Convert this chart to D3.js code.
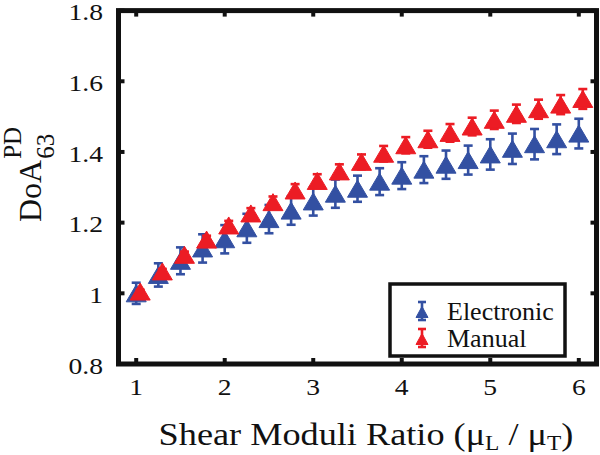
<!DOCTYPE html>
<html>
<head>
<meta charset="utf-8">
<script src="https://cdn.jsdelivr.net/npm/d3@7"></script>
<style>
  html, body { margin: 0; padding: 0; background: #fff; }
  svg { display: block; }
  text { font-family: "Liberation Serif", "Times New Roman", Times, serif; fill: #111; }
</style>
</head>
<body>
<svg id="chart" width="600" height="455"></svg>
<script>
// ---- data ----
const ratios = [1, 1.25, 1.5, 1.75, 2, 2.25, 2.5, 2.75, 3, 3.25, 3.5, 3.75, 4, 4.25, 4.5, 4.75, 5, 5.25, 5.5, 5.75, 6];
const electronic = [1.000, 1.052, 1.092, 1.127, 1.153, 1.184, 1.210, 1.234, 1.260, 1.282, 1.296, 1.316, 1.333, 1.350, 1.364, 1.377, 1.393, 1.409, 1.422, 1.436, 1.452];
const electronicErr = [0.030, 0.033, 0.038, 0.040, 0.040, 0.041, 0.040, 0.040, 0.040, 0.040, 0.037, 0.038, 0.038, 0.038, 0.040, 0.041, 0.043, 0.043, 0.043, 0.042, 0.042];
const manual = [1.005, 1.062, 1.109, 1.152, 1.192, 1.226, 1.258, 1.291, 1.318, 1.345, 1.372, 1.395, 1.419, 1.436, 1.454, 1.472, 1.491, 1.508, 1.521, 1.534, 1.550];
const manualErr = [0.005, 0.007, 0.009, 0.011, 0.013, 0.015, 0.016, 0.018, 0.019, 0.020, 0.021, 0.022, 0.023, 0.024, 0.025, 0.025, 0.026, 0.026, 0.027, 0.027, 0.028];
const seriesNames = ["Electronic", "Manual"];
const xTicks = [1, 2, 3, 4, 5, 6];
const yTicks = [0.8, 1, 1.2, 1.4, 1.6, 1.8];
const yTickLabels = ["0.8", "1", "1.2", "1.4", "1.6", "1.8"];

// ---- layout / style ----
const BLUE = "#3350a2", RED = "#ec1c24";
const svg = d3.select("#chart");
const x = d3.scaleLinear().domain([0.8, 6.2]).range([118.5, 596.5]);
const y = d3.scaleLinear().domain([0.8, 1.8]).range([364, 10.6]);
const SX = 1.15; // horizontal text stretch seen in the reference

const series = [
  { name: seriesNames[0], vals: electronic, errs: electronicErr, color: BLUE, dx: 0 },
  { name: seriesNames[1], vals: manual, errs: manualErr, color: RED, dx: 4 }
];

function triPath(w, h) {
  return `M0,${-h / 2}L${w / 2},${h / 2}L${-w / 2},${h / 2}Z`;
}

const plot = svg.append("g");
series.forEach(s => {
  const g = plot.append("g");
  const pts = ratios.map((r, i) => ({ r, v: s.vals[i], e: s.errs[i] }));
  const eb = g.selectAll("g.eb").data(pts).enter().append("g")
    .attr("transform", d => `translate(${x(d.r) + s.dx},0)`)
    .attr("stroke", s.color).attr("stroke-width", 2.6).attr("fill", "none");
  eb.append("line").attr("x1", 0).attr("x2", 0).attr("y1", d => y(d.v + d.e)).attr("y2", d => y(d.v - d.e));
  eb.append("line").attr("x1", -4.5).attr("x2", 4.5).attr("y1", d => y(d.v + d.e)).attr("y2", d => y(d.v + d.e));
  eb.append("line").attr("x1", -4.5).attr("x2", 4.5).attr("y1", d => y(d.v - d.e)).attr("y2", d => y(d.v - d.e));
  g.selectAll("path.m").data(pts).enter().append("path")
    .attr("d", triPath(20, 17))
    .attr("transform", d => `translate(${x(d.r) + s.dx},${y(d.v)})`)
    .attr("fill", s.color).attr("stroke", s.color).attr("stroke-width", 1);
});

// ---- frame and ticks ----
const [x0, x1] = x.range();
const [yb, yt] = y.range();
const axisG = svg.append("g");
const tickLen = 6;
axisG.selectAll("line.xt").data(xTicks).enter().append("line")
  .attr("x1", d => x(d)).attr("x2", d => x(d)).attr("y1", yb).attr("y2", yb - tickLen)
  .attr("stroke", "#111").attr("stroke-width", 4);
axisG.selectAll("line.xtt").data(xTicks).enter().append("line")
  .attr("x1", d => x(d)).attr("x2", d => x(d)).attr("y1", yt).attr("y2", yt + tickLen)
  .attr("stroke", "#111").attr("stroke-width", 4);
axisG.selectAll("line.yt").data(yTicks).enter().append("line")
  .attr("x1", x0).attr("x2", x0 + tickLen).attr("y1", d => y(d)).attr("y2", d => y(d))
  .attr("stroke", "#111").attr("stroke-width", 4);
axisG.selectAll("line.ytr").data(yTicks).enter().append("line")
  .attr("x1", x1).attr("x2", x1 - tickLen).attr("y1", d => y(d)).attr("y2", d => y(d))
  .attr("stroke", "#111").attr("stroke-width", 4);
axisG.append("rect")
  .attr("x", x0).attr("y", yt).attr("width", x1 - x0).attr("height", yb - yt)
  .attr("fill", "none").attr("stroke", "#111").attr("stroke-width", 5);

// tick labels (stretched horizontally like the reference)
axisG.selectAll("text.xl").data(xTicks).enter().append("text")
  .attr("transform", d => `translate(${x(d)},395) scale(${SX},1)`)
  .attr("text-anchor", "middle").attr("font-size", 24).text(d => d);
axisG.selectAll("text.yl").data(yTicks).enter().append("text")
  .attr("transform", d => `translate(103,${y(d)}) scale(${SX},1)`)
  .attr("dy", "0.4em").attr("text-anchor", "end")
  .attr("font-size", 24).text((d, i) => yTickLabels[i]);

// x title
const xt = svg.append("text")
  .attr("transform", `translate(366,445) scale(1.17,1)`)
  .attr("text-anchor", "middle").attr("font-size", 31);
xt.append("tspan").text("Shear Moduli Ratio (μ");
xt.append("tspan").attr("font-size", 20).attr("dy", 5).text("L");
xt.append("tspan").attr("dy", -5).text(" / μ");
xt.append("tspan").attr("font-size", 20).attr("dy", 5).text("T");
xt.append("tspan").attr("dy", -5).text(")");

// y title
const yg = svg.append("g").attr("transform", "translate(41,222) rotate(-90)");
const doa = yg.append("text").attr("x", 0).attr("y", 0).attr("font-size", 32).text("DoA");
const doaW = doa.node().getComputedTextLength();
yg.append("text").attr("x", doaW + 1).attr("y", 13).attr("font-size", 25).text("63");
yg.append("text").attr("x", doaW + 1).attr("y", -20).attr("font-size", 25).text("PD");

// legend
const lg = svg.append("g");
lg.append("rect").attr("x", 390).attr("y", 284).attr("width", 175).attr("height", 72)
  .attr("fill", "#fff").attr("stroke", "#111").attr("stroke-width", 3.5);
const legendRows = [311, 338];
series.forEach((s, i) => {
  const cy = legendRows[i];
  const g = lg.append("g").attr("transform", `translate(422,${cy})`)
    .attr("stroke", s.color).attr("stroke-width", 2.6);
  g.append("line").attr("x1", 0).attr("x2", 0).attr("y1", -9).attr("y2", 9);
  g.append("line").attr("x1", -4).attr("x2", 4).attr("y1", -9).attr("y2", -9);
  g.append("line").attr("x1", -4).attr("x2", 4).attr("y1", 9).attr("y2", 9);
  g.append("path").attr("d", triPath(12, 11)).attr("transform", "translate(0,1)").attr("fill", s.color).attr("stroke-width", 1);
  lg.append("text").attr("x", 447).attr("y", cy + 9).attr("font-size", 26).text(s.name);
});
</script>
</body>
</html>
